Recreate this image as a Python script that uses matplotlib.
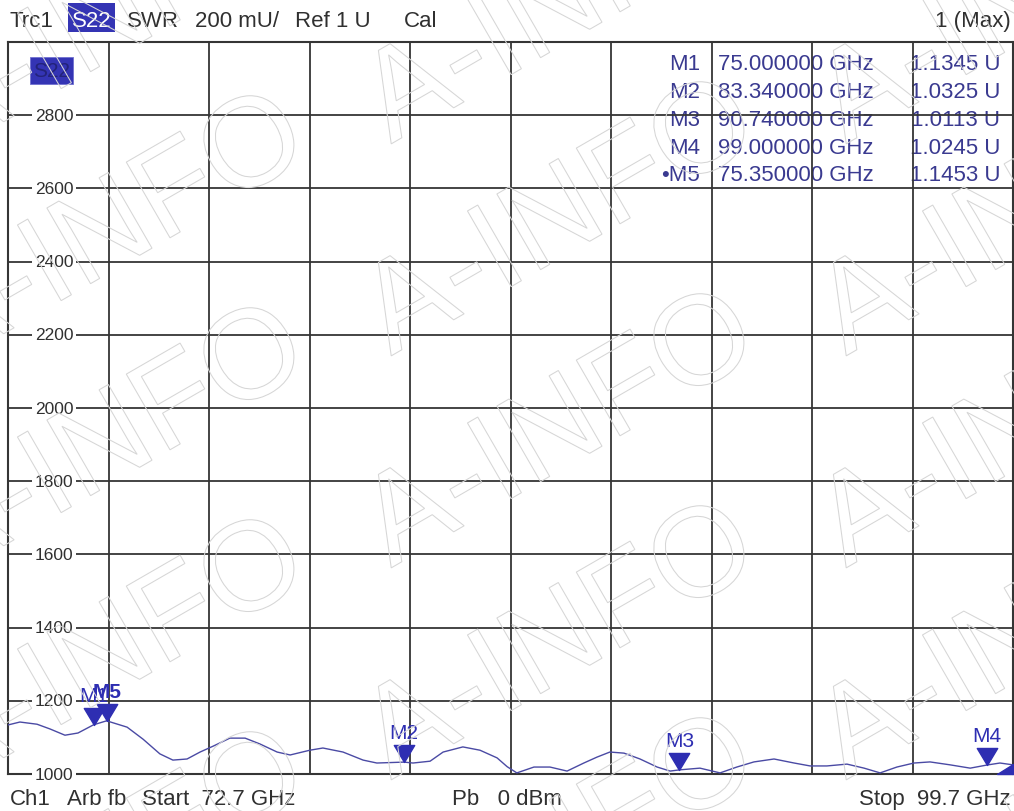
import numpy as np
import matplotlib
matplotlib.use("Agg")
import matplotlib.pyplot as plt
from matplotlib.path import Path
from matplotlib.patches import PathPatch, Rectangle
from matplotlib.textpath import TextPath
from matplotlib.font_manager import FontProperties
from matplotlib.transforms import Affine2D

W, H = 1014, 812
FONT = 'Liberation Sans'
plt.rcParams['font.family'] = [FONT, 'DejaVu Sans']

# Sweep / scale settings
START_GHZ = 72.7
STOP_GHZ = 99.7
REF_LEVEL = 1.0
SCALE_PER_DIV = 0.2

# S22 SWR trace
freq_ghz = [72.70, 73.02, 73.48, 73.83, 74.23, 74.58, 75.00, 75.35, 75.90, 76.33,
            76.78, 77.13, 77.51, 77.86, 78.21, 78.66, 79.07, 79.47, 79.93, 80.28,
            80.81, 81.16, 81.70, 82.24, 82.61, 83.34, 83.58, 84.04, 84.39, 84.92,
            85.38, 85.84, 86.11, 86.37, 86.83, 87.26, 87.72, 88.17, 88.52, 88.87,
            89.25, 89.68, 90.14, 90.49, 90.74, 91.29, 91.83, 92.28, 92.74, 93.28,
            93.82, 94.25, 94.70, 95.24, 95.70, 96.13, 96.58, 97.04, 97.47, 98.01,
            98.55, 99.00, 99.35, 99.70]
swr = [1.134, 1.142, 1.136, 1.123, 1.106, 1.112, 1.1345, 1.1453, 1.128, 1.095,
       1.055, 1.038, 1.041, 1.060, 1.076, 1.098, 1.098, 1.082, 1.060, 1.052,
       1.065, 1.071, 1.060, 1.038, 1.030, 1.0325, 1.030, 1.035, 1.060, 1.074,
       1.065, 1.044, 1.020, 1.003, 1.019, 1.019, 1.008, 1.030, 1.046, 1.060,
       1.057, 1.041, 1.019, 1.008, 1.0113, 1.016, 1.003, 1.019, 1.033, 1.041,
       1.030, 1.022, 1.022, 1.027, 1.016, 1.003, 1.019, 1.030, 1.033, 1.025,
       1.016, 1.0245, 1.030, 1.025]

marker_names = ['M1', 'M2', 'M3', 'M4', 'M5']
marker_freq = [75.0, 83.34, 90.74, 99.0, 75.35]
marker_swr = [1.1345, 1.0325, 1.0113, 1.0245, 1.1453]

y_tick_values = [1.0, 1.2, 1.4, 1.6, 1.8, 2.0, 2.2, 2.4, 2.6, 2.8]

TRACE = '#4a4aa4'
MARK = '#2e2eb2'
TABLE = '#3a3a90'
TEXT = '#303030'
GRID = '#353535'


def fx(px):
    return px / W


def fy(py):
    return 1 - py / H


fig = plt.figure(figsize=(W / 100, H / 100), dpi=100)
fig.patch.set_facecolor('white')

ax = fig.add_axes([fx(8), fy(775), 1005 / W, 732 / H])
ax.set_xlim(START_GHZ, STOP_GHZ)
ax.set_ylim(REF_LEVEL, REF_LEVEL + 10 * SCALE_PER_DIV)
ax.set_xticks(np.linspace(START_GHZ, STOP_GHZ, 11))
ax.set_yticks(np.linspace(REF_LEVEL, REF_LEVEL + 10 * SCALE_PER_DIV, 11))
ax.tick_params(length=0, labelleft=False, labelbottom=False)
ax.grid(True, color=GRID, lw=1.3)
ax.set_axisbelow(False)
for s in ax.spines.values():
    s.set_color(GRID)
    s.set_linewidth(1.5)

# y labels sit on the grid lines inside the plot
for v in y_tick_values:
    ax.text(0.0458, v, f"{round(v * 1000)}", transform=ax.get_yaxis_transform(),
            ha='center', va='center', fontsize=12.5, color=TEXT, zorder=4,
            bbox=dict(fc='white', ec='none', pad=2.2), clip_on=False)

ax.plot(freq_ghz, swr, color=TRACE, lw=1.0, zorder=3)

# markers: triangles with the tip on the trace point
tri = Path([(0, 0), (-0.6, 1), (0.6, 1), (0, 0)], closed=True)
for name, f, v in zip(marker_names, marker_freq, marker_swr):
    ax.plot([f], [v], marker=tri, ms=24.5, color=MARK, ls='none', zorder=5, clip_on=False)
    ax.annotate(name, (f, v), xytext=(0, 17), textcoords='offset points',
                ha='center', va='baseline', fontsize=15, color=MARK, zorder=6,
                fontweight='bold' if name == 'M5' else 'normal')

# reference level indicator on the right edge
ref_tri = Path([(0, 0), (-1.6, 0), (0, 1.0), (0, 0)], closed=True)
ax.plot([STOP_GHZ], [REF_LEVEL], marker=ref_tri, ms=23, color=MARK, ls='none',
        zorder=5, clip_on=False)

# trace badge inside the diagram
ax.add_patch(Rectangle((fx(30), fy(85)), 43 / W, 27 / H, transform=fig.transFigure,
                       fc='#3434b4', ec='#7070d0', lw=0.6, zorder=4))
ax.text(fx(51.5), fy(71.5), 'S22', transform=fig.transFigure, ha='center', va='center',
        fontsize=15, color='#23237a', zorder=5)

# marker table (grid lines drawn over it, like the analyzer screen)
for i, (name, f, v) in enumerate(zip(marker_names, marker_freq, marker_swr)):
    y = fy(64 + 28 * i)
    label = ('\u2022' if name == 'M5' else '') + name
    ax.text(fx(700), y, label, transform=fig.transFigure, ha='right', va='center',
            fontsize=16, color=TABLE, zorder=2)
    ax.text(fx(718), y, f"{f:.6f} GHz", transform=fig.transFigure, ha='left', va='center',
            fontsize=16, color=TABLE, zorder=2)
    ax.text(fx(1000), y, f"{v:.4f} U", transform=fig.transFigure, ha='right', va='center',
            fontsize=16, color=TABLE, zorder=2)

# header line
fig.patches.append(Rectangle((fx(68), fy(33)), 47 / W, 29 / H, transform=fig.transFigure,
                             fc='#3434b4', ec='none', zorder=1))
hdr_y = fy(27)
fig.text(fx(10), hdr_y, 'Trc1', fontsize=16, color=TEXT, va='baseline')
fig.text(fx(91.5), hdr_y, 'S22', fontsize=16, color='white', va='baseline', ha='center')
fig.text(fx(127), hdr_y, 'SWR', fontsize=16, color=TEXT, va='baseline')
fig.text(fx(195), hdr_y, '200 mU/', fontsize=16, color=TEXT, va='baseline')
fig.text(fx(295), hdr_y, 'Ref 1 U', fontsize=16, color=TEXT, va='baseline')
fig.text(fx(404), hdr_y, 'Cal', fontsize=16, color=TEXT, va='baseline')
fig.text(fx(1011), hdr_y, '1 (Max)', fontsize=16, color=TEXT, va='baseline', ha='right')

# footer line
ftr_y = fy(805)
fig.text(fx(10), ftr_y, 'Ch1', fontsize=16, color=TEXT, va='baseline')
fig.text(fx(67), ftr_y, 'Arb fb', fontsize=16, color=TEXT, va='baseline')
fig.text(fx(142), ftr_y, 'Start  72.7 GHz', fontsize=16, color=TEXT, va='baseline')
fig.text(fx(452), ftr_y, 'Pb   0 dBm', fontsize=16, color=TEXT, va='baseline')
fig.text(fx(1011), ftr_y, 'Stop  99.7 GHz', fontsize=16, color=TEXT, va='baseline', ha='right')

# outlined "A-INFO" watermark tiled over the screen
wm = TextPath((0, 0), 'A-INFO', size=127, prop=FontProperties(family=FONT))
for i, ax_x in enumerate([-45, 405, 860]):
    for j in range(6):
        a_y = -127 + 212 * j + (14 if i == 0 else 0)
        tr = Affine2D().rotate_deg(30).translate(ax_x - 14, H - a_y - 60)
        fig.add_artist(PathPatch(wm, transform=tr, fc='none', ec='#d6d6d6', lw=0.75, zorder=10))

fig.savefig('out.png', dpi=100, facecolor='white')
